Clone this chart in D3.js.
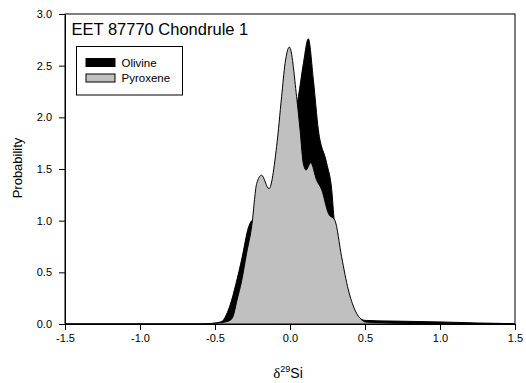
<!DOCTYPE html>
<html><head><meta charset="utf-8">
<script src="https://cdn.jsdelivr.net/npm/d3@7"></script>
<style>body{margin:0;background:#fff;}svg{display:block;}</style>
</head><body>
<svg id="chart" width="526" height="383"></svg>
<script>
const title = "EET 87770 Chondrule 1";
const seriesNames = ["Olivine", "Pyroxene"];
const xTicks = [-1.5, -1.0, -0.5, 0.0, 0.5, 1.0, 1.5];
const yTicks = [0.0, 0.5, 1.0, 1.5, 2.0, 2.5, 3.0];

const olivineX = [-1.5, -0.6, -0.55, -0.5, -0.45, -0.433, -0.4, -0.362, -0.32, -0.278, -0.255, -0.22, -0.15, -0.1, -0.05, 0.0, 0.044, 0.056, 0.089, 0.122, 0.156, 0.189, 0.244, 0.278, 0.295, 0.32, 0.35, 0.4, 0.45, 0.5, 0.7, 1.0, 1.25, 1.5];
const olivineY = [0, 0, 0.002, 0.008, 0.03, 0.065, 0.18, 0.38, 0.64, 0.93, 1.0, 1.02, 1.15, 1.3, 1.55, 1.85, 2.1, 2.2, 2.52, 2.76, 2.36, 1.88, 1.56, 1.30, 1.0, 0.78, 0.5, 0.22, 0.08, 0.035, 0.028, 0.02, 0.01, 0.003];

const pyroxeneX = [-1.5, -0.6, -0.55, -0.5, -0.45, -0.4, -0.378, -0.355, -0.322, -0.29, -0.255, -0.222, -0.19, -0.14, -0.089, -0.056, -0.033, -0.004, 0.044, 0.067, 0.089, 0.107, 0.138, 0.178, 0.211, 0.256, 0.3, 0.344, 0.389, 0.433, 0.478, 0.5, 0.6, 0.8, 1.0, 1.5];
const pyroxeneY = [0, 0, 0.003, 0.008, 0.015, 0.035, 0.08, 0.22, 0.42, 0.68, 0.95, 1.36, 1.44, 1.31, 1.72, 2.2, 2.52, 2.68, 2.2, 1.88, 1.55, 1.49, 1.56, 1.39, 1.30, 1.07, 1.0, 0.65, 0.33, 0.135, 0.04, 0.02, 0.012, 0.006, 0.003, 0];

const svg = d3.select("#chart");
const L = 65, R = 515, T = 14, B = 324;
const x = d3.scaleLinear().domain([-1.5, 1.5]).range([L, R]);
const y = d3.scaleLinear().domain([0, 3]).range([B, T]);
const font = "'Liberation Sans', Arial, sans-serif";
const fmt = d => d.toFixed(1);

function series(xs, ys) { return xs.map((v, i) => [v, ys[i]]); }
const area = d3.area().x(d => x(d[0])).y0(y(0)).y1(d => y(d[1])).curve(d3.curveMonotoneX);
const line = d3.line().x(d => x(d[0])).y(d => y(d[1])).curve(d3.curveMonotoneX);

const oliv = series(olivineX, olivineY);
const pyro = series(pyroxeneX, pyroxeneY);

svg.append("path").datum(oliv).attr("d", area).attr("fill", "#000");
svg.append("path").datum(oliv).attr("d", line).attr("fill", "none").attr("stroke", "#000").attr("stroke-width", 1);
svg.append("path").datum(pyro).attr("d", area).attr("fill", "#c0c0c0");
svg.append("path").datum(pyro).attr("d", line).attr("fill", "none").attr("stroke", "#000").attr("stroke-width", 1);

// frame
svg.append("rect").attr("x", L).attr("y", T).attr("width", R - L).attr("height", B - T)
  .attr("fill", "none").attr("stroke", "#000").attr("stroke-width", 1);

const xAxis = svg.append("g").attr("transform", `translate(0,${B})`)
  .call(d3.axisBottom(x).tickValues(xTicks).tickFormat(fmt).tickSize(6).tickSizeOuter(0));
const yAxis = svg.append("g").attr("transform", `translate(${L},0)`)
  .call(d3.axisLeft(y).tickValues(yTicks).tickFormat(fmt).tickSize(6).tickSizeOuter(0));
[xAxis, yAxis].forEach(g => {
  g.select(".domain").attr("stroke", "#000");
  g.selectAll(".tick line").attr("stroke", "#000");
  g.selectAll(".tick text").attr("font-family", font).attr("font-size", 11).attr("fill", "#000");
});
xAxis.selectAll(".tick text").attr("dy", "0.71em").attr("y", 10);
yAxis.selectAll(".tick text").attr("x", -13);

// title
svg.append("text").attr("x", 71.5).attr("y", 35).attr("font-family", font).attr("font-size", 16.5)
  .attr("fill", "#000").text(title);

// legend
const lg = svg.append("g");
lg.append("rect").attr("x", 76.5).attr("y", 46.5).attr("width", 106).attr("height", 48.5)
  .attr("fill", "#fff").attr("stroke", "#000").attr("stroke-width", 1);
const legendColors = ["#000", "#c0c0c0"];
seriesNames.forEach((n, i) => {
  lg.append("rect").attr("x", 86).attr("y", 58.5 + i * 15.5).attr("width", 29).attr("height", 8)
    .attr("fill", legendColors[i]).attr("stroke", "#000").attr("stroke-width", 1);
  lg.append("text").attr("x", 121.5).attr("y", 66.5 + i * 15.5).attr("font-family", font)
    .attr("font-size", 11.5).attr("fill", "#000").text(n);
});

// axis titles
const xt = svg.append("text").attr("x", 288).attr("y", 378).attr("text-anchor", "middle")
  .attr("font-family", font).attr("font-size", 14).attr("fill", "#000");
xt.append("tspan").attr("font-family", "'Liberation Serif', 'Times New Roman', serif").attr("font-size", 15).text("δ");
xt.append("tspan").attr("font-size", 9).attr("dy", -6).text("29");
xt.append("tspan").attr("dy", 6).text("Si");

svg.append("text").attr("transform", `translate(22,168) rotate(-90)`).attr("text-anchor", "middle")
  .attr("font-family", font).attr("font-size", 13).attr("fill", "#000").text("Probability");
</script>
</body></html>
